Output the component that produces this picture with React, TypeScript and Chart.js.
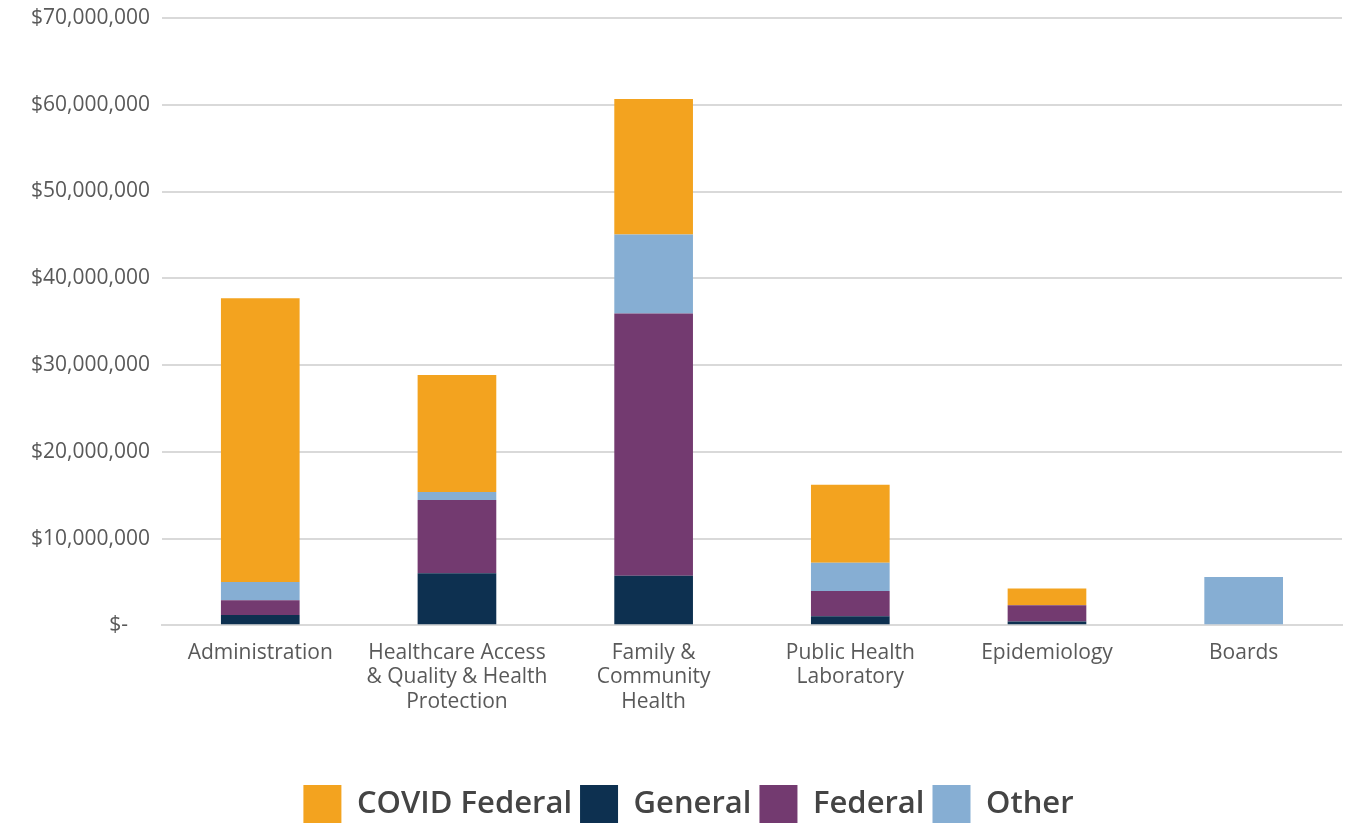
import React, { useEffect, useRef } from "react";
import { Chart, registerables } from "chart.js";

Chart.register(...registerables);

const categories: (string | string[])[] = [
  "Administration",
  ["Healthcare Access", "& Quality & Health", "Protection"],
  ["Family &", "Community", "Health"],
  ["Public Health", "Laboratory"],
  "Epidemiology",
  "Boards",
];

const generalValues = [1200000, 6000000, 5700000, 1050000, 450000, 0];
const federalValues = [1700000, 8450000, 30250000, 2900000, 1850000, 120000];
const otherValues = [2100000, 900000, 9100000, 3250000, 0, 5450000];
const covidValues = [32700000, 13500000, 15600000, 9000000, 1950000, 0];

const yTicks = [0, 10000000, 20000000, 30000000, 40000000, 50000000, 60000000, 70000000];

const legendOrder = ["COVID Federal", "General", "Federal", "Other"];

const legendShift = {
  id: "legendShift",
  afterLayout(chart: any) {
    if (chart.legend) {
      chart.legend.left += 8;
      chart.legend.right += 8;
    }
  },
};

export default function App() {
  const ref = useRef<HTMLCanvasElement | null>(null);

  useEffect(() => {
    document.body.style.margin = "0";
    if (!ref.current) return;
    const font = "'Open Sans', sans-serif";
    const chart = new Chart(ref.current, {
      type: "bar",
      data: {
        labels: categories as any,
        datasets: [
          { label: "General", data: generalValues, backgroundColor: "#0D3050" },
          { label: "Federal", data: federalValues, backgroundColor: "#733A70" },
          { label: "Other", data: otherValues, backgroundColor: "#86AED3" },
          { label: "COVID Federal", data: covidValues, backgroundColor: "#F3A31F" },
        ],
      },
      plugins: [legendShift],
      options: {
        animation: false,
        responsive: false,
        maintainAspectRatio: false,
        layout: { padding: { top: 0, right: 16, left: 19, bottom: -10 } },
        datasets: { bar: { categoryPercentage: 1, barPercentage: 0.4 } },
        plugins: {
          tooltip: { enabled: false },
          legend: {
            position: "bottom",
            labels: {
              font: { family: font, size: 31, weight: 600 },
              color: "#444444",
              boxWidth: 38,
              boxHeight: 38,
              padding: 8,
              sort: (a: any, b: any) => legendOrder.indexOf(a.text) - legendOrder.indexOf(b.text),
            },
          },
        },
        scales: {
          x: {
            stacked: true,
            grid: { display: false, drawTicks: false },
            border: { display: true, color: "#D9D9D9", width: 2 },
            afterFit: (axis: any) => {
              axis.height += 48;
            },
            ticks: {
              color: "#595959",
              font: { family: font, size: 21, lineHeight: 1.17 },
              padding: 15,
              maxRotation: 0,
              autoSkip: false,
            },
          },
          y: {
            stacked: true,
            min: 0,
            max: 70000000,
            afterBuildTicks: (axis: any) => {
              axis.ticks = yTicks.map((v) => ({ value: v }));
            },
            afterFit: (axis: any) => {
              axis.paddingTop = 18;
            },
            grid: { color: "#D9D9D9", lineWidth: 2, drawTicks: false },
            border: { display: false },
            ticks: {
              color: "#595959",
              font: { family: font, size: 21 },
              padding: 12,
              callback: (v: any) =>
                Number(v) === 0 ? "$-    " : "$" + Number(v).toLocaleString("en-US"),
            },
          },
        },
      },
    });
    return () => chart.destroy();
  }, []);

  return (
    <div style={{ width: 1358, height: 823 }}>
      <canvas ref={ref} width={1358} height={823} style={{ display: "block" }} />
    </div>
  );
}
